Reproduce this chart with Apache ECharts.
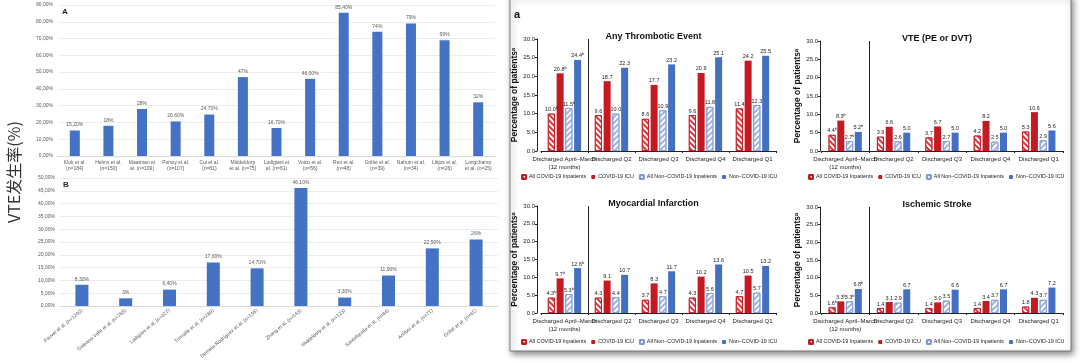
<!DOCTYPE html>
<html><head><meta charset="utf-8">
<script src="https://cdn.jsdelivr.net/npm/echarts@6/dist/echarts.min.js"></script>
<style>html,body{margin:0;padding:0;background:#fff}#c{width:1080px;height:363px}</style>
</head><body><div id="c"></div>
<script>
// ---- Left panel A ----
const catsA = ['Klok et al.\n(n=184)','Helms et al.\n(n=150)','Maatman et\nal. (n=109)','Poissy et al.\n(n=107)','Cui et al.\n(n=81)','Middeldorp\net al. (n=75)','Lodigiani et\nal. (n=61)','Voicu et al.\n(n=56)','Ren et al.\n(n=48)','Grillet et al.\n(n=39)','Nahum et al.\n(n=34)','Llitjos et al.\n(n=26)','Longchamp\net al. (n=25)'];
const valsA = [15.2, 18, 28, 20.6, 24.7, 47, 16.7, 46, 85.4, 74, 79, 69, 32];
const lblA = ['15,20%','18%','28%','20,60%','24,70%','47%','16,70%','46,00%','85,40%','74%','79%','69%','32%'];
// ---- Left panel B ----
const catsB = ['Fauvel et al. (n=1240)','Galeano-Valle et al. (n=785)','Lodigiani et al. (n=327)','Trimaille et al. (n=289)','Demelo-Rodríguez et al. (n=156)','Zhang et al. (n=143)','Middeldorp et al. (n=123)','Santoliquido et al. (n=84)','Artifoni et al. (n=71)','Grillet et al. (n=61)'];
const valsB = [8.3, 3, 6.4, 17, 14.7, 46.1, 3.3, 11.9, 22.5, 26];
const lblB = ['8,30%','3%','6,40%','17,00%','14,70%','46,10%','3,30%','11,90%','22,50%','26%'];
// ---- Right panels ----
const groupCats = ['Discharged April–March\n(12 months)','Discharged Q2','Discharged Q3','Discharged Q4','Discharged Q1'];
const seriesNames = ['All COVID-19 Inpatients','COVID-19 ICU','All Non–COVID-19 Inpatients','Non–COVID-19 ICU'];
const ateAllCovid = [10.0, 9.6, 8.6, 9.6, 11.4];
const ateCovidIcu = [20.8, 18.7, 17.7, 20.9, 24.2];
const ateAllNon   = [11.5, 10.0, 10.9, 11.8, 12.3];
const ateNonIcu   = [24.4, 22.3, 23.2, 25.1, 25.5];
const vteAllCovid = [4.4, 3.9, 3.7, 4.2, 5.3];
const vteCovidIcu = [8.3, 6.6, 6.7, 8.2, 10.6];
const vteAllNon   = [2.7, 2.6, 2.7, 2.5, 2.9];
const vteNonIcu   = [5.2, 5.0, 5.0, 5.0, 5.6];
const miAllCovid  = [4.3, 4.3, 3.7, 4.3, 4.7];
const miCovidIcu  = [9.7, 9.1, 8.3, 10.2, 10.5];
const miAllNon    = [5.3, 4.4, 4.7, 5.6, 5.7];
const miNonIcu    = [12.6, 10.7, 11.7, 13.6, 13.2];
const isAllCovid  = [1.6, 1.4, 1.4, 1.4, 1.8];
const isCovidIcu  = [3.3, 3.1, 3.0, 3.4, 4.3];
const isAllNon    = [3.3, 2.9, 3.5, 3.7, 3.7];
const isNonIcu    = [6.8, 6.7, 6.6, 6.7, 7.2];
const panelTitles = ['Any Thrombotic Event','VTE (PE or DVT)','Myocardial Infarction','Ischemic Stroke'];
const panelData = [
  [ateAllCovid, ateCovidIcu, ateAllNon, ateNonIcu],
  [vteAllCovid, vteCovidIcu, vteAllNon, vteNonIcu],
  [miAllCovid, miCovidIcu, miAllNon, miNonIcu],
  [isAllCovid, isCovidIcu, isAllNon, isNonIcu]
];

const chart = echarts.init(document.getElementById('c'), null, {renderer:'canvas'});
const FONT = 'Liberation Sans, Arial, sans-serif';
const RED = '#c41a22', BLUE = '#4470c4';

const rightGrids = [
  {left:541, top:39, width:235, height:112, off:4},
  {left:821, top:41, width:242, height:110, off:1},
  {left:541, top:206, width:235, height:107, off:4},
  {left:821, top:207, width:242, height:106, off:1}
];

const grid = [
  {left:58, top:5, width:437, height:151},
  {left:60, top:178, width:438, height:128}
].concat(rightGrids.map(g => ({left:g.left, top:g.top, width:g.width, height:g.height})));

const excelX = (cats, rot, idx) => ({
  type:'category', gridIndex:idx, data:cats,
  axisLine:{lineStyle:{color:'#d9d9d9'}}, axisTick:{show:false},
  axisLabel:{interval:0, rotate:rot, fontSize:5, lineHeight:6, color:'#595959', fontFamily:FONT, margin:4}
});
const excelY = (max, step, idx) => ({
  type:'value', gridIndex:idx, min:0, max:max, interval:step,
  axisLine:{show:false}, axisTick:{show:false},
  splitLine:{lineStyle:{color:'#e8e8e8', width:0.8}},
  axisLabel:{fontSize:5, color:'#595959', fontFamily:FONT, margin:5,
    formatter: v => v.toFixed(2).replace('.', ',') + '%'}
});

const xAxis = [excelX(catsA, 0, 0), excelX(catsB, 40, 1)];
const yAxis = [excelY(90, 10, 0), excelY(50, 5, 1)];
rightGrids.forEach((g, i) => {
  xAxis.push({type:'category', gridIndex:i+2, data:groupCats,
    axisLine:{lineStyle:{color:'#222', width:1}},
    axisTick:{show:true, length:2, lineStyle:{color:'#222'}},
    axisLabel:{interval:0, fontSize:6, lineHeight:8, color:'#222', fontFamily:FONT, margin:4}});
  yAxis.push({type:'value', gridIndex:i+2, min:0, max:30, interval:5, offset:g.off,
    name:'Percentage of patientsᵃ', nameLocation:'middle', nameGap:16, nameRotate:90,
    nameTextStyle:{fontSize:8.5, fontWeight:'bold', color:'#111', fontFamily:FONT},
    axisLine:{show:true, lineStyle:{color:'#222', width:1}},
    axisTick:{show:true, length:2, lineStyle:{color:'#222'}},
    splitLine:{show:false},
    axisLabel:{fontSize:6, color:'#222', fontFamily:FONT, margin:2, formatter: v => v.toFixed(1)}});
});

const series = [
  {type:'bar', xAxisIndex:0, yAxisIndex:0, data:valsA, barWidth:10,
   itemStyle:{color:'#4472c4'},
   label:{show:true, position:'top', distance:3, fontSize:5, color:'#595959', fontFamily:FONT,
     formatter: p => lblA[p.dataIndex]}},
  {type:'bar', xAxisIndex:1, yAxisIndex:1, data:valsB, barWidth:13,
   itemStyle:{color:'#4472c4'},
   label:{show:true, position:'top', distance:3, fontSize:5, color:'#595959', fontFamily:FONT,
     formatter: p => lblB[p.dataIndex]}}
];

const styles = [
  {color:'#ffffff', borderColor:RED, borderWidth:0.8,
   decal:{symbol:'rect', symbolSize:1, color:'#d9363e', dashArrayX:[1,0], dashArrayY:[1.2,1.6], rotation:Math.PI/4}},
  {color:RED},
  {color:'#ffffff', borderColor:'#7f9bd6', borderWidth:0.8,
   decal:{symbol:'rect', symbolSize:1, color:'#9fb5e3', dashArrayX:[1,0], dashArrayY:[1.2,1.6], rotation:-Math.PI/4}},
  {color:BLUE}
];

panelData.forEach((arrs, pi) => {
  arrs.forEach((arr, si) => {
    series.push({type:'bar', name:seriesNames[si], xAxisIndex:pi+2, yAxisIndex:pi+2,
      data:arr, barWidth:7, barGap:'25%', itemStyle:styles[si],
      label:{show:true, position:'top', distance:1, fontSize:5.5, color:'#222', fontFamily:FONT,
        formatter: p => p.value.toFixed(1) + (p.dataIndex === 0 ? 'ᵇ' : '')}});
  });
});

const titles = panelTitles.map((t, i) => {
  const g = rightGrids[i];
  return {text:t, left:g.left + g.width/2 - 10, top:g.top - 12, textAlign:'center',
    textStyle:{fontSize:9, fontWeight:'bold', color:'#111', fontFamily:FONT}};
});

const legendTops = [174, 174, 339, 339];
const legends = rightGrids.map((g, i) => ({
  data:seriesNames, left: i % 2 === 0 ? 521 : 808, top: legendTops[i], width:400,
  itemWidth:4, itemHeight:4, itemGap:5, padding:0,
  textStyle:{fontSize:5.4, color:'#222', fontFamily:FONT, padding:[0,0,0,-2]}
}));

const baseGraphic = [
  {type:'rect', z:-10, shape:{x:510, y:-4, width:561, height:355},
   style:{fill:'#fff', stroke:'#7a7a7a', lineWidth:1, shadowBlur:6, shadowOffsetX:2, shadowOffsetY:3, shadowColor:'rgba(0,0,0,0.45)'}},
  {type:'text', x:62, y:8, style:{text:'A', fontSize:8, fontWeight:'bold', fill:'#262626', fontFamily:FONT}},
  {type:'text', x:63, y:181, style:{text:'B', fontSize:8, fontWeight:'bold', fill:'#262626', fontFamily:FONT}},
  {type:'text', x:514, y:9, style:{text:'a', fontSize:11, fontWeight:'bold', fill:'#111', fontFamily:FONT}},
  {type:'text', x:14, y:172, rotation:Math.PI/2,
   style:{text:'VTE发生率(%)', fontSize:16, fill:'#333', fontFamily:'Noto Sans CJK SC, sans-serif', align:'center', verticalAlign:'middle'}}
];

chart.setOption({
  animation:false,
  backgroundColor:'#fff',
  grid, xAxis, yAxis, series, title:titles, legend:legends, graphic:baseGraphic
});

// separator lines between first and second category, located through the axes
const seps = rightGrids.map((g, i) => {
  const x0 = chart.convertToPixel({xAxisIndex:i+2}, groupCats[0]);
  const x1 = chart.convertToPixel({xAxisIndex:i+2}, groupCats[1]);
  const yt = chart.convertToPixel({yAxisIndex:i+2}, 30);
  const yb = chart.convertToPixel({yAxisIndex:i+2}, 0);
  const xm = Math.round((x0 + x1) / 2) + 0.5;
  return {type:'line', shape:{x1:xm, y1:yt, x2:xm, y2:yb}, style:{stroke:'#222', lineWidth:1}};
});
chart.setOption({graphic: baseGraphic.concat(seps)}, {replaceMerge:['graphic']});
</script></body></html>
